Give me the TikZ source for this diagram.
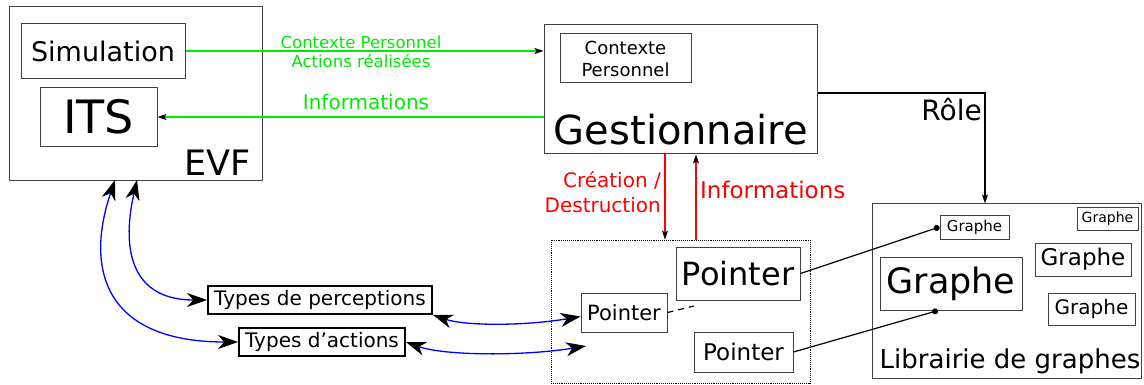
\documentclass[tikz,border=0pt]{standalone}
\usepackage{fontspec}
\setmainfont{DejaVu Sans}
\usetikzlibrary{arrows.meta}
\definecolor{flowgreen}{RGB}{0,235,0}
\definecolor{flowred}{RGB}{255,0,0}
\definecolor{flowblue}{RGB}{0,0,255}
\begin{document}
\begin{tikzpicture}[x=1pt,y=-1pt,
  box/.style={draw=black!75, line width=1pt, inner sep=0pt, align=center},
  heavybox/.style={draw=black, line width=1.8pt, inner sep=0pt},
  fs/.style={font=\fontsize{#1}{#1}\selectfont},
  smalltip/.style={-{Stealth[length=9pt,width=6pt,inset=2pt,black]}},
  bigtips/.style={{Stealth[length=20pt,width=14pt,inset=6pt,black]}-{Stealth[length=20pt,width=14pt,inset=6pt,black]}},
  greenflow/.style={flowgreen, line width=1.3pt, smalltip},
  redflow/.style={flowred, line width=1.2pt, smalltip},
  blueflow/.style={flowblue, line width=1.3pt, bigtips},
  link/.style={black, line width=1.2pt},
  dotend/.style={-{Circle[length=6pt,black]}}
]
\useasboundingbox (0,0) rectangle (1144,385);

% EVF block
\node[box, minimum width=253, minimum height=174] (evf) at (135.5,94) {};
\node[box, minimum width=164, minimum height=55, fs=27] (sim) at (103,51) {Simulation};
\node[box, minimum width=117, minimum height=59, fs=46] (its) at (98.5,117) {ITS};
\node[fs=35, anchor=base east, inner sep=0pt] (evflabel) at (251,176) {EVF};

% Gestionnaire block
\node[box, minimum width=273, minimum height=129] (gest) at (680.5,89.5) {};
\node[box, minimum width=131, minimum height=49, font=\fontsize{18}{22}\selectfont] (ctx) at (625.5,58.5) {Contexte\\Personnel};
\node[fs=40, anchor=base, inner sep=0pt] (gestlabel) at (681,145) {Gestionnaire};

% Pointer area
\node[draw=black, densely dotted, line width=0.9pt, minimum width=259, minimum height=143, inner sep=0pt] (ptrs) at (680.5,311.5) {};
\node[box, minimum width=124, minimum height=53, fs=32] (ptrA) at (738,273.5) {Pointer};
\node[box, minimum width=86, minimum height=39, fs=21] (ptrB) at (624,312.5) {Pointer};
\node[box, minimum width=99, minimum height=40, fs=23] (ptrC) at (743.5,352) {Pointer};

% Graph library
\node[box, minimum width=269, minimum height=174] (lib) at (1006.5,291) {};
\node[fs=26, anchor=base, inner sep=0pt] (liblabel) at (1010,368) {Librairie de graphes};
\node[box, minimum width=69, minimum height=24, fs=15] (g1) at (974.5,227) {Graphe};
\node[box, minimum width=61, minimum height=22, fs=14] (g2) at (1107.5,219) {Graphe};
\node[box, minimum width=96, minimum height=33, fs=23] (g3) at (1083,259.5) {Graphe};
\node[box, minimum width=87, minimum height=32, fs=20] (g4) at (1091.5,309) {Graphe};
\node[box, minimum width=142, minimum height=53, fs=35] (g5) at (951,283.5) {Graphe};

% Type boxes
\node[heavybox, minimum width=224, minimum height=28, fs=20] (perc) at (320,300) {Types de perceptions};
\node[heavybox, minimum width=166, minimum height=28, fs=20] (act) at (322,342) {Types d’actions};

% Green exchanges
\draw[greenflow] (sim.east) -- (sim.east -| gest.west);
\node[flowgreen, font=\fontsize{16.5}{19}\selectfont, align=center, inner sep=0pt] (greenlbl) at (361,52) {Contexte Personnel\\Actions réalisées};
\draw[greenflow] (its.east -| gest.west) -- (its.east);
\node[flowgreen, fs=20, anchor=base, inner sep=0pt] (greeninfo) at (366,110) {Informations};

% Role connector
\coordinate (roleturn) at (985,93);
\draw[link, smalltip] (gest.east |- roleturn) -| (lib.north -| roleturn);
\node[fs=28, anchor=base east, inner sep=0pt] (rolelbl) at (982,121) {Rôle};

% Red exchanges
\coordinate (downx) at (665,0);
\coordinate (upx) at (696,0);
\draw[redflow] (gest.south -| downx) -- (ptrs.north -| downx);
\draw[redflow] (ptrs.north -| upx) -- (gest.south -| upx);
\node[flowred, font=\fontsize{20}{25}\selectfont, align=right, anchor=east, inner sep=0pt] (crlbl) at (661,192) {Création /\\Destruction};
\node[flowred, fs=23, anchor=base west, inner sep=0pt] (redinfo) at (700,199) {Informations};

% Pointer links
\draw[link, dotend] (ptrA.east) -- (g1.west);
\draw[link, dotend] (ptrC.east) -- ([xshift=-13pt]g5.south);
\coordinate (dashend) at (694,306);
\draw[link, dashed, dash pattern=on 6pt off 5pt] (ptrB.east) -- (dashend);

% Blue exchanges
\coordinate (evfA) at (137,180);
\coordinate (evfB) at (115,180);
\coordinate (ptrin) at (586,346);
\draw[blueflow] (evfA) .. controls (120,255) and (135,300) .. (perc.west);
\draw[blueflow] (evfB) .. controls (83,275) and (110,342) .. (act.west);
\draw[blueflow] (perc.south east) .. controls (465,326) and (525,326) .. ([yshift=-4pt]ptrB.west);
\draw[blueflow] (act.east) .. controls (445,356) and (525,356) .. (ptrin);
\end{tikzpicture}
\end{document}
